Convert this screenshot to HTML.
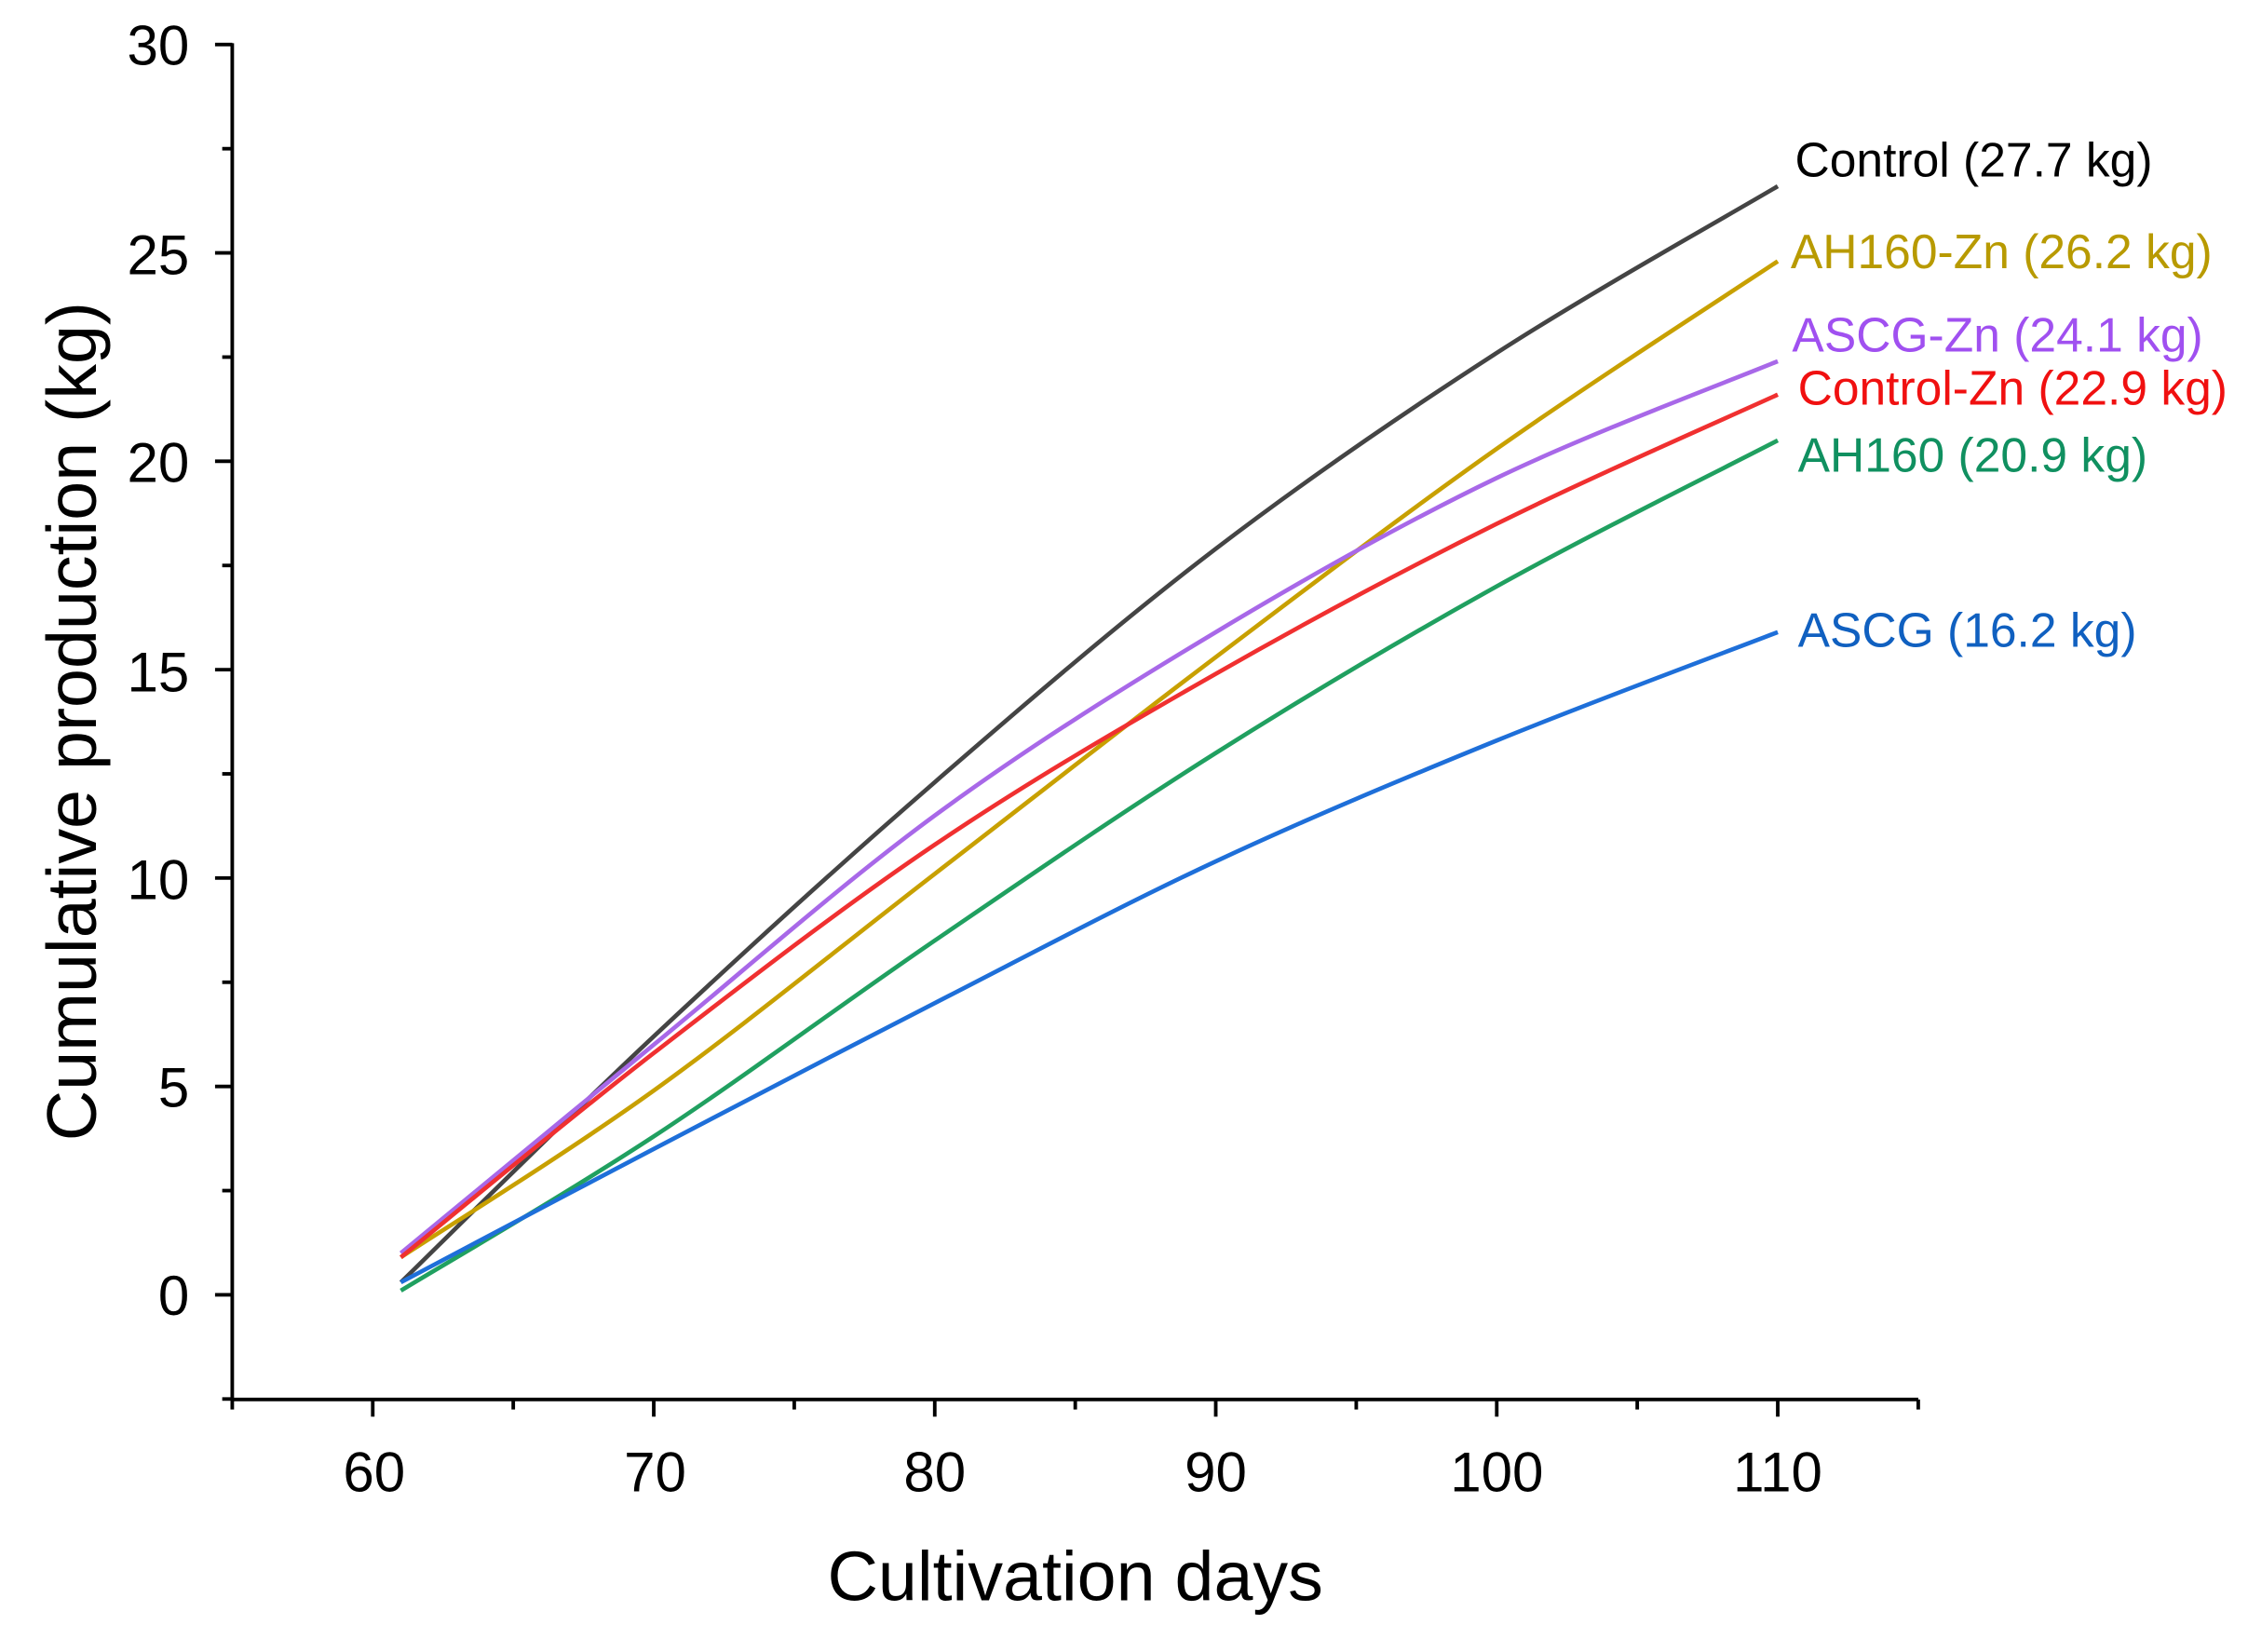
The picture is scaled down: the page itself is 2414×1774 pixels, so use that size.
<!DOCTYPE html>
<html><head><meta charset="utf-8"><style>
html,body{margin:0;padding:0;background:#fff;}
svg{display:block;}
text{font-family:"Liberation Sans",Arial,sans-serif;}
</style></head><body>
<svg id="s" width="2414" height="1774" viewBox="0 0 1568 1152" xmlns="http://www.w3.org/2000/svg">
<rect width="1568" height="1152" fill="#fff"/>
<g id="axes" stroke="#000" stroke-width="2.5" fill="none">
<line x1="162" y1="30" x2="162" y2="977"/>
<line x1="161" y1="976" x2="1338" y2="976"/>
</g>
<g id="ticks" stroke="#000" stroke-width="2.5"></g>
<g font-size="39" fill="#000" text-anchor="end">
<text x="132" y="45">30</text>
<text x="132" y="191">25</text>
<text x="132" y="336">20</text>
<text x="132" y="482">15</text>
<text x="132" y="627">10</text>
<text x="132" y="772">5</text>
<text x="132" y="917">0</text>
</g>
<g font-size="39" fill="#000" text-anchor="middle">
<text x="261" y="1040">60</text>
<text x="457" y="1040">70</text>
<text x="652" y="1040">80</text>
<text x="848" y="1040">90</text>
<text x="1044" y="1040">100</text>
<text x="1240" y="1040">110</text>
</g>
<text x="750" y="1116" font-size="49" text-anchor="middle">Cultivation days</text>
<text transform="translate(67,503) rotate(-90)" font-size="49" text-anchor="middle">Cumulative production (kg)</text>
<g id="curves" fill="none" stroke-width="3"></g>
<g font-size="33.5">
<text x="1252" y="123" fill="#000">Control (27.7 kg)</text>
<text x="1249" y="187" fill="#b89a00">AH160-Zn (26.2 kg)</text>
<text x="1250" y="245" fill="#a050f0">ASCG-Zn (24.1 kg)</text>
<text x="1254" y="282" fill="#f01010">Control-Zn (22.9 kg)</text>
<text x="1254" y="329" fill="#109060">AH160 (20.9 kg)</text>
<text x="1254" y="451" fill="#1060c0">ASCG (16.2 kg)</text>
</g>
</svg>
<script>
function X(d){return 162+(d-55)*19.6;}
function Y(v){return 903-v*29.07;}
var t=document.getElementById("ticks"),h="";
for(var d=55;d<=115;d+=5){var maj=(d%10===0);h+='<line x1="'+X(d)+'" y1="976" x2="'+X(d)+'" y2="'+(976+(maj?12:7))+'"/>';}
for(var v=-2.5;v<=30;v+=2.5){var maj=(v%5===0);h+='<line x1="162" y1="'+Y(v)+'" x2="'+(162-(maj?12:7))+'" y2="'+Y(v)+'"/>';}
t.innerHTML=h;
var xs=[61,70,80,90,100,110];
var S=[
["#444",[0.3,6.2,12.3,17.9,22.6,26.6]],
["#c8a000",[0.9,4.9,10.1,15.3,20.3,24.8]],
["#a868e8",[1.0,6.0,11.5,15.9,19.6,22.4]],
["#f03030",[0.9,5.8,10.8,14.9,18.5,21.6]],
["#20a060",[0.1,3.8,8.5,13.0,17.0,20.5]],
["#1e6fd9",[0.3,3.5,7.0,10.4,13.3,15.9]]];
var c=document.getElementById("curves"),o="";
S.forEach(function(s){
 var p=xs.map(function(x,i){return [X(x),Y(s[1][i])];});
 var d="M"+p[0][0]+","+p[0][1];
 for(var i=0;i<p.length-1;i++){
  var p0=p[Math.max(i-1,0)],p1=p[i],p2=p[i+1],p3=p[Math.min(i+2,p.length-1)];
  var c1=[p1[0]+(p2[0]-p0[0])/6,p1[1]+(p2[1]-p0[1])/6];
  var c2=[p2[0]-(p3[0]-p1[0])/6,p2[1]-(p3[1]-p1[1])/6];
  d+=" C"+c1+" "+c2+" "+p2;
 }
 o+='<path d="'+d+'" stroke="'+s[0]+'"/>';
});
c.innerHTML=o;
</script>
</body></html>
